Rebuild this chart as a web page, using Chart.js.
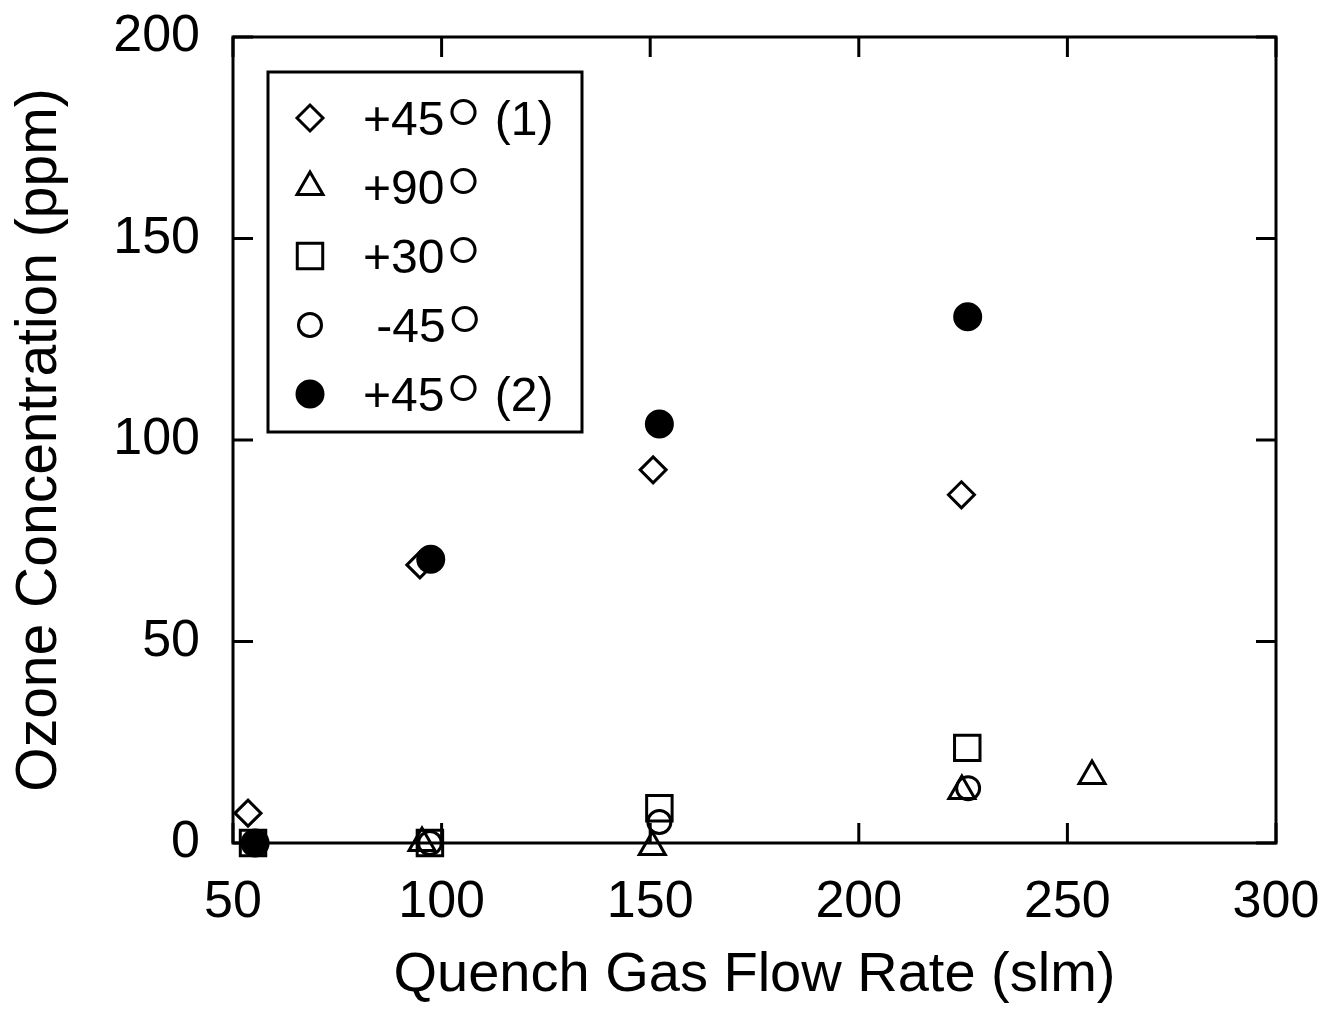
<!DOCTYPE html>
<html lang="en">
<head>
<meta charset="UTF-8">
<title>Ozone Concentration vs Quench Gas Flow Rate</title>
<script src="https://cdn.jsdelivr.net/npm/chart.js"></script>
<style>
  body { margin: 0; background: #fff; }
  #wrap { width: 1338px; height: 1009px; }
</style>
</head>
<body>
<div id="wrap"><canvas id="ozone"></canvas></div>
<script>
// x = quench gas flow rate (slm), y = ozone concentration (ppm)
const diamondX = [53.6, 94.8, 150.7, 224.6];
const diamondY = [7.4, 69.0, 92.6, 86.4];
const triangleX = [95.3, 150.5, 224.7, 255.9];
const triangleY = [0, -1, 12.9, 16.6];
const squareX = [54.8, 97.2, 152.2, 226.0];
const squareY = [0, 0, 8.6, 23.6];
const circleX = [55.3, 97.2, 152.2, 226.2];
const circleY = [0, 0, 5.2, 13.6];
const filledX = [55.3, 97.4, 152.2, 226.1];
const filledY = [0, 70.4, 104.0, 130.6];

const seriesLabels = ['+45° (1)', '+90°', '+30°', ' -45°', '+45° (2)'];
const xTicks = [50, 100, 150, 200, 250, 300];
const yTicks = [0, 50, 100, 150, 200];

const FONT = "'Liberation Sans', Arial, Helvetica, sans-serif";
const DEG_FONT = "Lato, 'Liberation Sans', sans-serif";
const pts = (xs, ys) => xs.map((v, i) => ({ x: v, y: ys[i] }));

function series(label, xs, ys, style, r, filled, order) {
  return {
    label: label,
    data: pts(xs, ys),
    pointStyle: style,
    pointRadius: r,
    pointHoverRadius: r,
    pointBorderWidth: 3,
    pointBorderColor: '#000',
    pointBackgroundColor: filled ? '#000' : 'rgba(0,0,0,0)',
    showLine: false,
    clip: false,
    order: order
  };
}

// box round the plot and ticks pointing inward on all four sides
const frame = {
  id: 'frame',
  beforeDatasetsDraw(chart) {
    const { ctx, chartArea: a, scales: { x, y } } = chart;
    const len = 20;
    ctx.save();
    ctx.strokeStyle = '#000';
    ctx.lineWidth = 3;
    ctx.strokeRect(a.left, a.top, a.right - a.left, a.bottom - a.top);
    ctx.beginPath();
    xTicks.forEach(v => {
      const px = x.getPixelForValue(v);
      ctx.moveTo(px, a.bottom); ctx.lineTo(px, a.bottom - len);
      ctx.moveTo(px, a.top); ctx.lineTo(px, a.top + len);
    });
    yTicks.forEach(v => {
      const py = y.getPixelForValue(v);
      ctx.moveTo(a.left, py); ctx.lineTo(a.left + len, py);
      ctx.moveTo(a.right, py); ctx.lineTo(a.right - len, py);
    });
    ctx.stroke();
    ctx.restore();
  }
};

// legend box inside the plot, upper left; the degree ring is a large thin circle in the original
const boxLegend = {
  id: 'boxLegend',
  afterDatasetsDraw(chart) {
    const { ctx, chartArea: a } = chart;
    const left = a.left + 35, top = a.top + 35;
    const w = 314, h = 360;
    const fs = 48, ring = 27;
    ctx.save();
    ctx.fillStyle = '#fff';
    ctx.fillRect(left, top, w, h);
    ctx.strokeStyle = '#000';
    ctx.lineWidth = 3;
    ctx.strokeRect(left, top, w, h);
    ctx.textBaseline = 'alphabetic';
    ctx.textAlign = 'left';

    // size the degree glyph so its ring is about `ring` px wide
    ctx.font = '300 100px ' + DEG_FONT;
    const m0 = ctx.measureText('°');
    const degFs = 100 * ring / (m0.actualBoundingBoxLeft + m0.actualBoundingBoxRight);

    chart.data.datasets.forEach((ds, i) => {
      const cy = top + 46 + i * 69;
      const cx = left + 42;
      ctx.fillStyle = ds.pointBackgroundColor;
      ctx.strokeStyle = '#000';
      ctx.lineWidth = 3;
      Chart.helpers.drawPoint(ctx, {
        pointStyle: ds.pointStyle,
        radius: ds.pointRadius,
        rotation: 0,
        borderWidth: 3
      }, cx, cy);
      ctx.fillStyle = '#000';
      const base = cy + 0.358 * fs;
      const capTop = base - 0.716 * fs;
      const parts = seriesLabels[i].split('°');
      let tx = left + 95;
      ctx.font = fs + 'px ' + FONT;
      ctx.fillText(parts[0], tx, base);
      tx += ctx.measureText(parts[0]).width + 5;
      ctx.font = '300 ' + degFs + 'px ' + DEG_FONT;
      const m = ctx.measureText('°');
      ctx.fillText('°', tx + m.actualBoundingBoxLeft, capTop - 2 + m.actualBoundingBoxAscent);
      tx += ring + 5;
      ctx.font = fs + 'px ' + FONT;
      ctx.fillText(parts[1], tx, base);
    });
    ctx.restore();
  }
};

new Chart(document.getElementById('ozone'), {
  type: 'scatter',
  data: {
    datasets: [
      series(seriesLabels[0], diamondX, diamondY, 'rectRot', 13, false, 4),
      series(seriesLabels[1], triangleX, triangleY, 'triangle', 15, false, 3),
      series(seriesLabels[2], squareX, squareY, 'rect', 18, false, 2),
      series(seriesLabels[3], circleX, circleY, 'circle', 11.5, false, 1),
      series(seriesLabels[4], filledX, filledY, 'circle', 13, true, 0)
    ]
  },
  options: {
    responsive: true,
    maintainAspectRatio: false,
    animation: false,
    layout: { padding: { left: 0, top: 37, right: 62, bottom: 0 } },
    plugins: {
      legend: { display: false },
      tooltip: { enabled: false }
    },
    scales: {
      x: {
        type: 'linear',
        min: 50,
        max: 300,
        afterFit(scale) {
          scale.height = 166;
          scale.paddingLeft = 0;
          scale.paddingRight = 0;
        },
        afterBuildTicks(scale) { scale.ticks = xTicks.map(v => ({ value: v })); },
        grid: { display: false, drawTicks: false },
        border: { display: false },
        ticks: { color: '#000', font: { family: FONT, size: 52 }, padding: 28, maxRotation: 0 },
        title: {
          display: true,
          text: 'Quench Gas Flow Rate (slm)',
          color: '#000',
          font: { family: FONT, size: 56 },
          padding: { top: 0, bottom: 0 }
        }
      },
      y: {
        type: 'linear',
        min: 0,
        max: 200,
        afterFit(scale) {
          scale.width = 233;
          scale.paddingTop = 0;
          scale.paddingBottom = 0;
        },
        afterBuildTicks(scale) { scale.ticks = yTicks.map(v => ({ value: v })); },
        grid: { display: false, drawTicks: false },
        border: { display: false },
        ticks: { color: '#000', font: { family: FONT, size: 52 }, padding: 33 },
        title: {
          display: true,
          text: 'Ozone Concentration (ppm)',
          color: '#000',
          font: { family: FONT, size: 57 },
          padding: { top: 6, bottom: 0 }
        }
      }
    }
  },
  plugins: [frame, boxLegend]
});
</script>
</body>
</html>
